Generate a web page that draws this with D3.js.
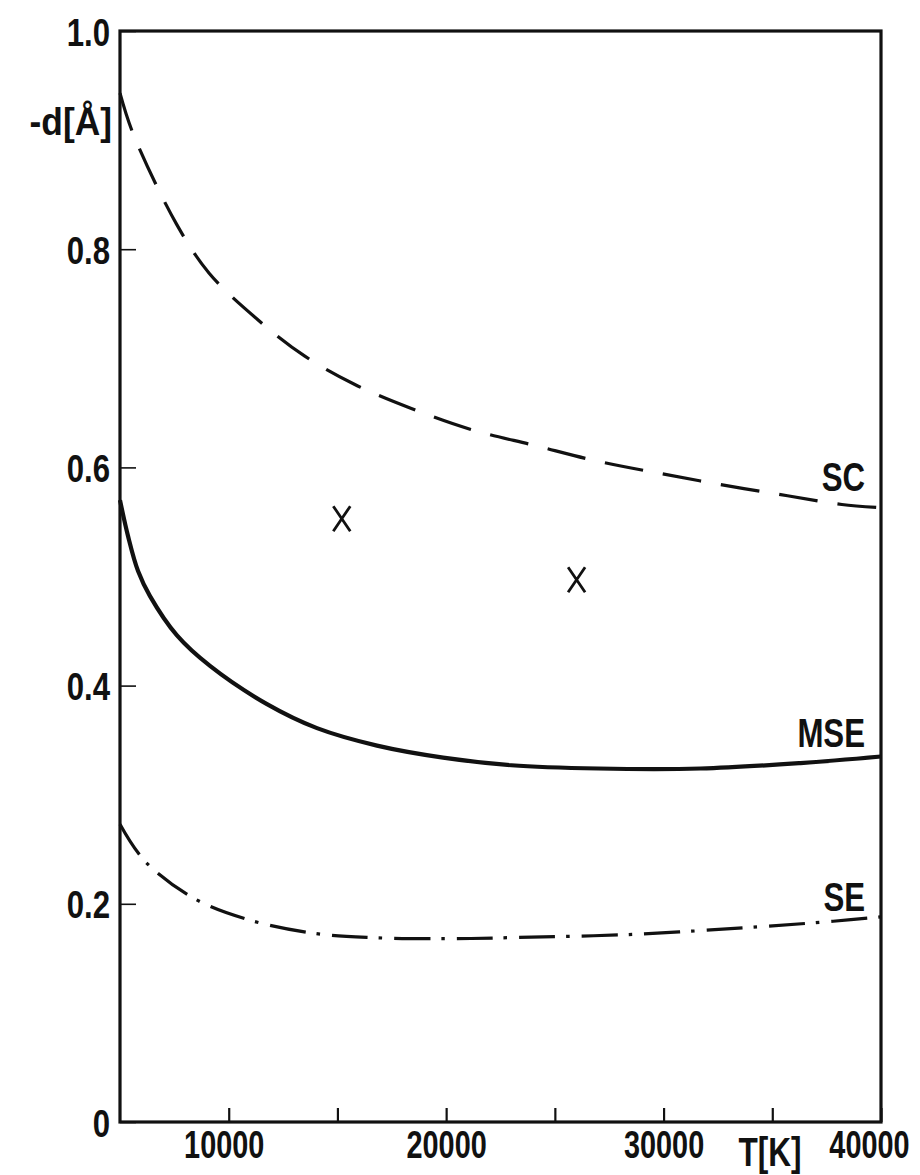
<!DOCTYPE html>
<html>
<head>
<meta charset="utf-8">
<script src="https://cdn.jsdelivr.net/npm/d3@7"></script>
<style>
  html, body { margin: 0; padding: 0; background: #fff; }
  svg { display: block; }
  .lab { font-family: "Liberation Sans Narrow", "Liberation Sans", "DejaVu Sans Condensed", sans-serif; font-weight: bold; fill: #111; }
</style>
</head>
<body>
<svg id="chart" width="920" height="1175"></svg>
<script>
// Temperature grid (K) and -d (Å) for each curve
const scT   = [5000, 5600, 7600, 9100, 11300, 13500, 15800, 18400, 21100, 24100, 26900, 29700, 32700, 35700, 38200, 40000];
const scD   = [0.943, 0.906, 0.823, 0.778, 0.736, 0.702, 0.676, 0.654, 0.635, 0.620, 0.606, 0.595, 0.584, 0.574, 0.566, 0.563];

const mseT  = [5000, 5370, 5830, 6380, 7620, 9140, 11760, 14060, 16820, 19860, 23000, 27000, 31700, 36300, 40000];
const mseD  = [0.570, 0.537, 0.505, 0.482, 0.446, 0.418, 0.383, 0.361, 0.345, 0.334, 0.327, 0.324, 0.324, 0.329, 0.335];

const seT   = [5000, 6150, 8400, 10800, 13900, 16600, 20000, 23000, 28600, 34400, 37800, 40000];
const seD   = [0.273, 0.239, 0.205, 0.186, 0.173, 0.169, 0.168, 0.169, 0.172, 0.179, 0.184, 0.188];

// Individual measurements marked with crosses
const crossT = [15200, 26000];
const crossD = [0.553, 0.497];

// Axis ticks
const xTickValues = [10000, 15000, 20000, 25000, 30000, 35000, 40000];
const xTickLabels = ["10000", "", "20000", "", "30000", "", "40000"];
const yTickValues = [0, 0.2, 0.4, 0.6, 0.8, 1.0];
const yTickLabels = ["0", "0.2", "0.4", "0.6", "0.8", "1.0"];

// Curve names and the -d level of each name's baseline
const curveNames  = ["SC", "MSE", "SE"];
const curveLabelD = [0.578, 0.344, 0.193];

const svg = d3.select("#chart");
const plotL = 120, plotR = 881, plotT = 31, plotB = 1122;

const x = d3.scaleLinear().domain([5000, 40000]).range([plotL, plotR]);
const y = d3.scaleLinear().domain([0, 1]).range([plotB, plotT]);

// Narrow lettering: squeeze each text horizontally about its own anchor point
function condense(sel, k) {
  sel.each(function () {
    const t = d3.select(this);
    const x0 = +t.attr("x") || 0;
    const dx = +(t.attr("dx") || 0);
    t.attr("x", x0 / k).attr("dx", dx / k).attr("transform", `scale(${k},1)`);
  });
}

// Frame
svg.append("rect")
  .attr("x", x(5000)).attr("y", y(1))
  .attr("width", x(40000) - x(5000)).attr("height", y(0) - y(1))
  .attr("fill", "none").attr("stroke", "#111").attr("stroke-width", 3.2);

// Y axis: inward ticks, labels to the left
const yAxis = d3.axisLeft(y)
  .tickValues(yTickValues)
  .tickFormat((d, i) => yTickLabels[i])
  .tickSize(-16).tickPadding(10);
const gy = svg.append("g").attr("transform", `translate(${plotL},0)`).call(yAxis);
gy.select(".domain").remove();
gy.selectAll(".tick line").attr("stroke", "#111").attr("stroke-width", 1.6);
gy.selectAll(".tick text").attr("class", "lab").style("font-size", "39px").attr("dy", "0.36em")
  .call(condense, 0.8);

// X axis: inward ticks, labels below
const xAxis = d3.axisBottom(x)
  .tickValues(xTickValues)
  .tickFormat((d, i) => xTickLabels[i])
  .tickSize(-14).tickPadding(9);
const gx = svg.append("g").attr("transform", `translate(0,${plotB})`).call(xAxis);
gx.select(".domain").remove();
gx.selectAll(".tick line").attr("stroke", "#111").attr("stroke-width", 2.2);
gx.selectAll(".tick text").attr("class", "lab").style("font-size", "38px")
  .attr("dx", d => d === 40000 ? -12 : (d === 10000 ? -5 : 0))
  .call(condense, 0.76);

// Axis titles
svg.append("text").attr("class", "lab")
  .attr("x", 112).attr("y", 135).attr("text-anchor", "end")
  .style("font-size", "38px")
  .text("-d[Å]")
  .call(condense, 0.93);

svg.append("text").attr("class", "lab")
  .attr("x", 770).attr("y", 1166).attr("text-anchor", "middle")
  .style("font-size", "40px")
  .text("T[K]")
  .call(condense, 0.79);

// Curves
const line = d3.line().x(d => x(d[0])).y(d => y(d[1])).curve(d3.curveCatmullRom.alpha(0.5));
const zip = (a, b) => a.map((v, i) => [v, b[i]]);

const curves = [
  { pts: zip(scT, scD),   dash: "39,20",        width: 3.2 },
  { pts: zip(mseT, mseD), dash: null,           width: 4.2 },
  { pts: zip(seT, seD),   dash: "36,11,3.5,12", width: 3.2 }
];

svg.append("g").selectAll("path").data(curves).join("path")
  .attr("d", d => line(d.pts))
  .attr("fill", "none")
  .attr("stroke", "#111")
  .attr("stroke-width", d => d.width)
  .attr("stroke-dasharray", d => d.dash)
  .attr("stroke-linecap", "butt");

// Curve names at the right end, just above each curve
svg.append("g").selectAll("text").data(curveNames).join("text")
  .attr("class", "lab")
  .attr("x", 865).attr("y", (d, i) => y(curveLabelD[i]))
  .attr("text-anchor", "end")
  .style("font-size", "40px")
  .text(d => d)
  .call(condense, 0.78);

// Crosses
const crosses = zip(crossT, crossD);
svg.append("g").selectAll("path").data(crosses).join("path")
  .attr("d", d => {
    const cx = x(d[0]), cy = y(d[1]);
    return `M${cx - 8.5},${cy - 12.5}L${cx + 8.5},${cy + 12.5}M${cx + 8.5},${cy - 12.5}L${cx - 8.5},${cy + 12.5}`;
  })
  .attr("fill", "none").attr("stroke", "#111").attr("stroke-width", 2.8);
</script>
</body>
</html>
